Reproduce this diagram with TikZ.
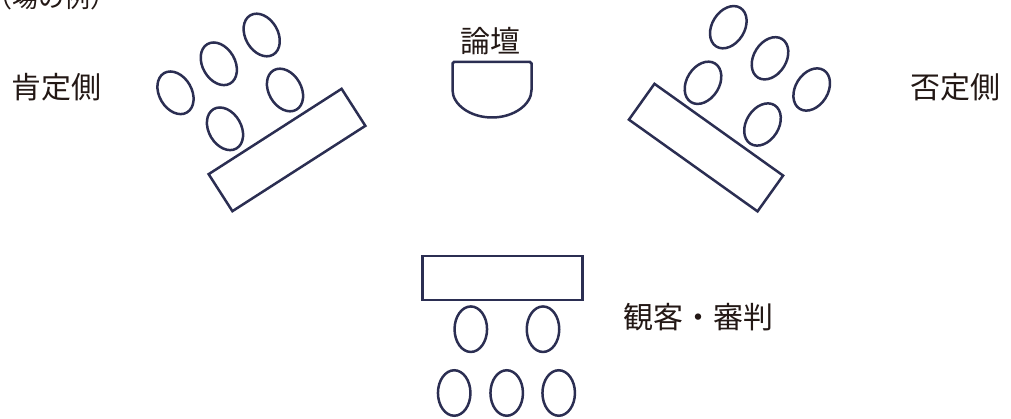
\documentclass[tikz,border=0pt]{standalone}
\usepackage{fontspec}
\setmainfont{Noto Sans CJK JP}
\usetikzlibrary{shapes.geometric}
\definecolor{navy}{HTML}{2B2E52}
\definecolor{ink}{HTML}{231815}
\tikzset{
  seat/.style={draw=navy, line width=2.5pt, ellipse, inner sep=0pt, minimum width=32.5pt, minimum height=45.5pt},
  desk/.style={draw=navy, line width=2.5pt, rectangle, inner sep=0pt, minimum width=158pt, minimum height=44pt},
  lbl/.style={text=ink, font=\fontsize{30}{30}\selectfont, inner sep=0pt},
}
\begin{document}
\begin{tikzpicture}[x=1pt,y=-1pt]
\useasboundingbox (0,0) rectangle (1011,419);
% top-left caption (clipped)
\node[text=ink, font=\fontsize{26}{26}\selectfont, inner sep=0pt, anchor=base west] (cap) at (-14,8) {（場の例）};
% left group
\node[desk, rotate=32.7] (ltable) at (287,150) {};
\node[seat, rotate=30] (l1) at (175.5,92.8) {};
\node[seat, rotate=30] (l2) at (218.8,63.8) {};
\node[seat, rotate=30] (l3) at (261.7,35) {};
\node[seat, rotate=30] (l4) at (285,90) {};
\node[seat, rotate=30] (l5) at (225,128.8) {};
\node[lbl] (aff) at (56,87.5) {肯定側};
% right group
\node[desk, rotate=-35.5] (rtable) at (706,147.6) {};
\node[seat, rotate=-32] (r1) at (728.3,27.2) {};
\node[seat, rotate=-32] (r2) at (770,58.3) {};
\node[seat, rotate=-32] (r3) at (703,82.8) {};
\node[seat, rotate=-32] (r4) at (811.7,89.5) {};
\node[seat, rotate=-32] (r5) at (762.5,124.5) {};
\node[lbl] (neg) at (955,87.5) {否定側};
% podium
\draw[navy, line width=2.5pt, rounded corners=1.5pt] (452.5,62) -- (452.5,88.5)
  arc[start angle=180, end angle=0, x radius=39.5, y radius=29] -- (531.5,62) -- cycle;
\node[lbl] (pod) at (490.5,41) {論壇};
% bottom group
\node[desk, minimum width=160pt] (btable) at (502.5,278) {};
\node[seat, rotate=0] (b1) at (470.8,329.2) {};
\node[seat] (b2) at (543,329.2) {};
\node[seat] (b3) at (454.2,393) {};
\node[seat] (b4) at (506.7,393) {};
\node[seat] (b5) at (558.7,393) {};
\node[lbl] (aud) at (698.7,317.5) {観客・審判};
\end{tikzpicture}
\end{document}
